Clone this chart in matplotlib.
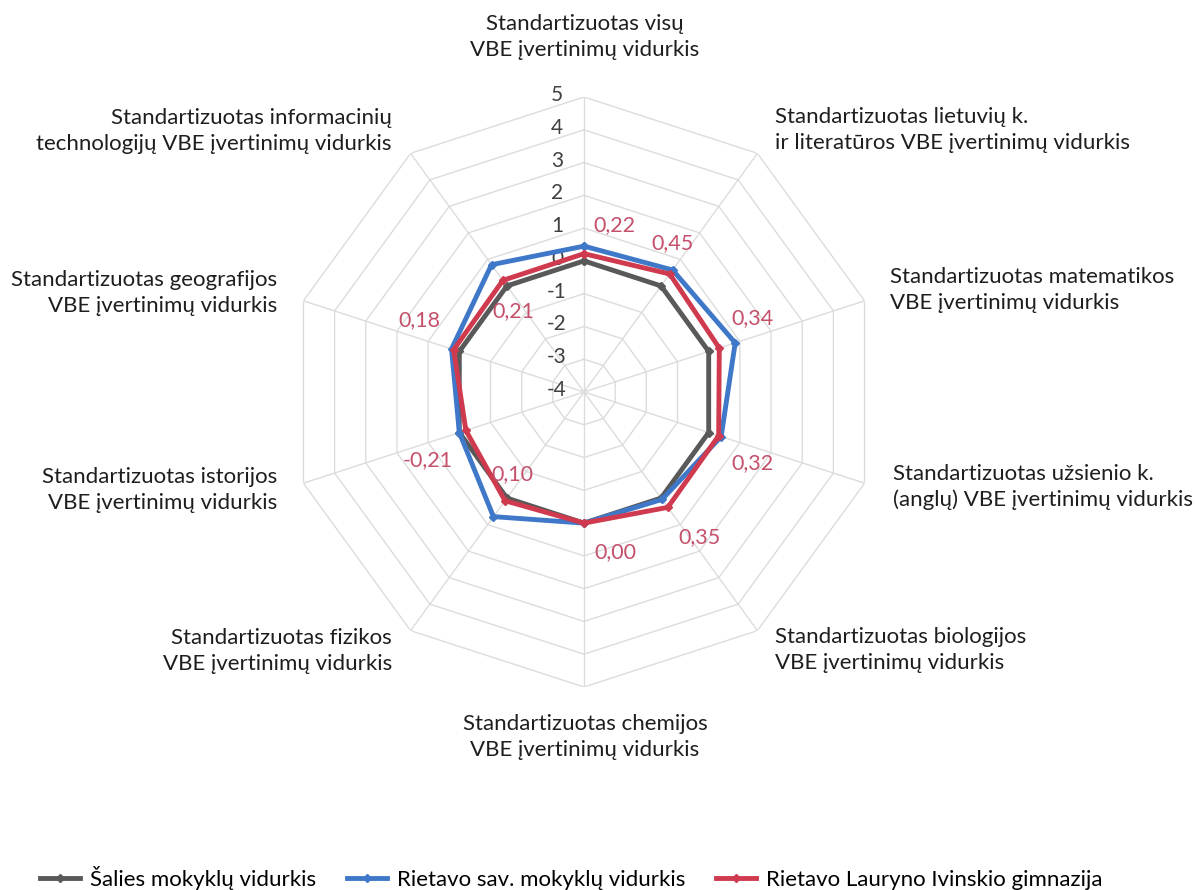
import numpy as np
import matplotlib
matplotlib.use('Agg')
import matplotlib.pyplot as plt

plt.rcParams['font.family'] = ['Lato', 'Open Sans', 'DejaVu Sans']

# Categories (clockwise from top)
categories = [
    'Standartizuotas visų\nVBE įvertinimų vidurkis',
    'Standartizuotas lietuvių k.\nir literatūros VBE įvertinimų vidurkis',
    'Standartizuotas matematikos\nVBE įvertinimų vidurkis',
    'Standartizuotas užsienio k.\n(anglų) VBE įvertinimų vidurkis',
    'Standartizuotas biologijos\nVBE įvertinimų vidurkis',
    'Standartizuotas chemijos\nVBE įvertinimų vidurkis',
    'Standartizuotas fizikos\nVBE įvertinimų vidurkis',
    'Standartizuotas istorijos\nVBE įvertinimų vidurkis',
    'Standartizuotas geografijos\nVBE įvertinimų vidurkis',
    'Standartizuotas informacinių\ntechnologijų VBE įvertinimų vidurkis',
]
salies = [0, 0, 0, 0, 0, 0, 0, 0, 0, 0]
savivaldybe = [0.45, 0.6, 0.85, 0.4, 0.05, 0.0, 0.7, 0.0, 0.25, 0.8]
gimnazija = [0.22, 0.45, 0.34, 0.32, 0.35, 0.00, 0.10, -0.21, 0.18, 0.21]
series_names = ['Šalies mokyklų vidurkis', 'Rietavo sav. mokyklų vidurkis',
                'Rietavo Lauryno Ivinskio gimnazija']
ring_values = [-4, -3, -2, -1, 0, 1, 2, 3, 4, 5]

W, H = 1195, 890
fig = plt.figure(figsize=(W / 100, H / 100), dpi=100)

cx, cy, R = 584, 392, 295
ax = fig.add_axes([(cx - R) / W, (H - cy - R) / H, 2 * R / W, 2 * R / H], projection='polar')
ax.set_theta_zero_location('N')
ax.set_theta_direction(-1)
ax.set_ylim(-4, 5)
ax.set_xticks([])
ax.set_yticks([])
ax.spines['polar'].set_visible(False)
ax.grid(False)
ax.patch.set_alpha(0)

n = len(categories)
theta = np.arange(n) * 2 * np.pi / n
theta_c = np.append(theta, theta[0])

# polygon grid
for rv in ring_values[1:]:
    ax.plot(theta_c, [rv] * (n + 1), color='#dcdcdc', lw=1, zorder=1)
for t in theta:
    ax.plot([t, t], [-4, 5], color='#dcdcdc', lw=1, zorder=1)

# radial tick labels
for rv in ring_values:
    ax.annotate(str(rv), xy=(0, rv), xytext=(-27, 2), textcoords='offset pixels',
                ha='center', va='center', fontsize=15, color='#404040')

colors = ['#595959', '#3f78c8', '#d03a4e']
for vals, col, name in zip([salies, savivaldybe, gimnazija], colors, series_names):
    v = np.append(vals, vals[0])
    ax.plot(theta_c, v, color=col, lw=3.5, marker='D', ms=4, label=name, zorder=3)

# data labels for gimnazija
offsets = [(30, 29), (3, 31), (33, 30), (34, -27), (32, -30),
           (31, -29), (7, 27), (-38, -30), (-34, 30), (10, -31)]
for t, v, off in zip(theta, gimnazija, offsets):
    ax.annotate(f'{v:.2f}'.replace('.', ','), xy=(t, v), xytext=off,
                textcoords='offset pixels', ha='center', va='center',
                fontsize=15.5, color='#c4506a', zorder=4)

# category labels
label_pos = [(585, 37, 'center'), (775, 130, 'left'), (890, 290, 'left'),
             (893, 487, 'left'), (775, 650, 'left'), (585, 737, 'center'),
             (392, 651, 'right'), (277, 490, 'right'), (277, 293, 'right'),
             (392, 131, 'right')]
for cat, (x, y, ha) in zip(categories, label_pos):
    fig.text(x / W, 1 - y / H, cat, ha=ha, va='center', fontsize=16,
             color='#1e1e1e', linespacing=1.35, multialignment=ha)

handles, labels = ax.get_legend_handles_labels()
fig.legend(handles, labels, loc='center', bbox_to_anchor=(0.478, 1 - 878 / H),
           ncol=3, frameon=False, fontsize=16, handlelength=1.8, columnspacing=1.4,
           handletextpad=0.45)

fig.savefig('out.png', dpi=100)
